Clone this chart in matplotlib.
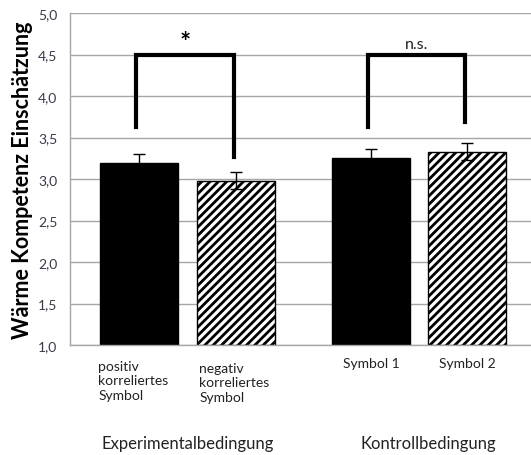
import matplotlib
matplotlib.use("Agg")
import matplotlib.pyplot as plt
import numpy as np

plt.rcParams['font.family'] = ['Lato', 'DejaVu Sans']
plt.rcParams['hatch.linewidth'] = 2.0

categories = ["positiv\nkorreliertes\nSymbol", "negativ\nkorreliertes\nSymbol", "Symbol 1", "Symbol 2"]
groups = ["Experimentalbedingung", "Kontrollbedingung"]
values = [3.19, 2.98, 3.25, 3.33]
errors = [0.11, 0.10, 0.11, 0.10]
hatches = ["", "////", "", "////"]
facecolors = ["black", "white", "black", "white"]
yticks = [1.0, 1.5, 2.0, 2.5, 3.0, 3.5, 4.0, 4.5, 5.0]
ytick_labels = ["1,0", "1,5", "2,0", "2,5", "3,0", "3,5", "4,0", "4,5", "5,0"]
bracket_top = [4.5, 4.5]
bracket_left_bottom = [3.63, 3.63]
bracket_right_bottom = [3.27, 3.69]
sig_labels = ["*", "n.s."]

positions = np.array([0.0, 1.0, 2.39, 3.38])

fig = plt.figure(figsize=(5.31, 4.56), dpi=100)
ax = fig.add_axes([70/531, 110/456, 461/531, 332/456])

ax.set_ylim(1.0, 5.0)
ax.set_xlim(-0.711, 4.04)
ax.set_yticks(yticks)
ax.set_yticklabels(ytick_labels, fontsize=10, color="#3a3a4a")
ax.yaxis.grid(True, color="#a6a6a6", linewidth=1.0)
ax.set_axisbelow(True)
ax.tick_params(axis="y", length=0, pad=9)
ax.set_xticks([])
for s in ["top", "right"]:
    ax.spines[s].set_visible(False)
for s in ["left", "bottom"]:
    ax.spines[s].set_color("#a6a6a6")
    ax.spines[s].set_linewidth(1.0)

for x, v, h, fc in zip(positions, values, hatches, facecolors):
    ax.bar(x, v - 1.0, bottom=1.0, width=0.80, color=fc, edgecolor="black",
           hatch=h, linewidth=1.0, zorder=2)
ax.errorbar(positions, values, yerr=errors, fmt="none", ecolor="black",
            elinewidth=1.0, capsize=4, capthick=1.0, zorder=3)

pairs = [(0, 1), (2, 3)]
for (i, j), top, lb, rb, lab in zip(pairs, bracket_top, bracket_left_bottom,
                                    bracket_right_bottom, sig_labels):
    xl = positions[i] - 0.03
    xr = positions[j] - 0.02
    ax.plot([xl, xl, xr, xr], [lb, top, top, rb], color="black", linewidth=3,
            solid_joinstyle="miter", zorder=4)
    if lab == "*":
        ax.text((xl + xr) / 2, top + 0.15, lab, ha="center", va="center",
                fontsize=19, fontweight="bold")
    else:
        ax.text((xl + xr) / 2, top + 0.13, lab, ha="center", va="center",
                fontsize=11.5, color="#222222")

# category labels
trans = ax.get_xaxis_transform()
ax.text(positions[0] - 0.42, -0.045, categories[0], transform=trans, ha="left",
        va="top", fontsize=10, linespacing=1.25, color="#222222")
ax.text(positions[1] - 0.38, -0.05, categories[1], transform=trans, ha="left",
        va="top", fontsize=10, linespacing=1.25, color="#222222")
ax.text(positions[2], -0.035, categories[2], transform=trans, ha="center",
        va="top", fontsize=10, color="#222222")
ax.text(positions[3], -0.035, categories[3], transform=trans, ha="center",
        va="top", fontsize=10, color="#222222")
ax.text((positions[0] + positions[1]) / 2 - 0.0, -0.295, groups[0], transform=trans,
        ha="center", va="center", fontsize=12, color="#222222")
ax.text((positions[2] + positions[3]) / 2 + 0.1, -0.295, groups[1], transform=trans,
        ha="center", va="center", fontsize=12, color="#222222")

ax.set_ylabel("Wärme Kompetenz Einschätzung", fontsize=15.5, fontweight="bold",
              labelpad=4)

fig.savefig("out.png", dpi=100)
